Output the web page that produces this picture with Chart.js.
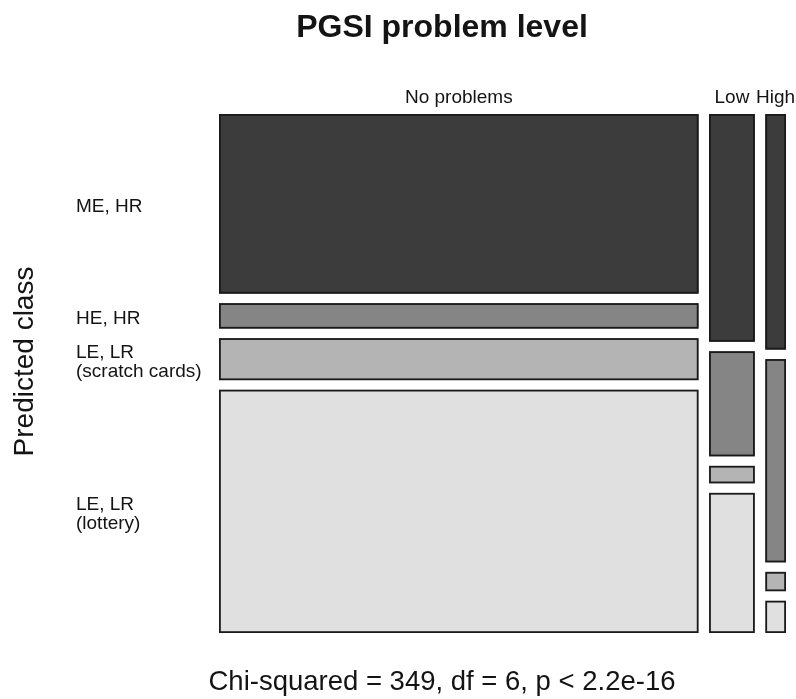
<!DOCTYPE html>
<html>
<head>
<meta charset="utf-8">
<script src="https://cdn.jsdelivr.net/npm/chart.js@4.4.1/dist/chart.umd.min.js"></script>
<style>
  html, body { margin: 0; padding: 0; background: #fff; }
  #wrap { width: 796px; height: 699px; position: relative; }
</style>
</head>
<body>
<div id="wrap"><canvas id="grafica"></canvas></div>
<script>
// =======================================================
// DATOS
// =======================================================
const pgsiLevels = ["No problems", "Low", "High"];
const classLabels = [["ME, HR"], ["HE, HR"], ["LE, LR", "(scratch cards)"], ["LE, LR", "(lottery)"]];
const noProblemsCounts = [1290, 183, 302, 1747];
const lowCounts = [156, 72, 12, 96];
const highCounts = [73, 63, 6, 10];

const chartTitle = "PGSI problem level";
const yTitle = "Predicted class";
const bottomText = "Chi-squared = 349, df = 6, p < 2.2e-16";

// estilos
const classColors = ["#3c3c3c", "#858585", "#b4b4b4", "#e0e0e0"];
const FONT = "'Liberation Sans', Arial, sans-serif";
const GAP_X = 0.0185;  // separación entre columnas (unidades de escala)
const GAP_Y = 0.0183;  // separación entre filas

const columns = [noProblemsCounts, lowCounts, highCounts];

// =======================================================
// CONSTRUIR RECTÁNGULOS DEL MOSAICO (unidades 0..1)
// =======================================================
function construirMosaico() {
    const colTotals = columns.map(c => c.reduce((a, b) => a + b, 0));
    const total = colTotals.reduce((a, b) => a + b, 0);
    const anchoUtil = 1 - GAP_X * (columns.length - 1);
    const rects = [];
    let x = 0;
    columns.forEach((col, j) => {
        const w = anchoUtil * colTotals[j] / total;
        const altoUtil = 1 - GAP_Y * (col.length - 1);
        let y = 0;
        col.forEach((n, i) => {
            const h = altoUtil * n / colTotals[j];
            rects.push({ col: j, row: i, x0: x, x1: x + w, y0: y, y1: y + h });
            y += h + GAP_Y;
        });
        x += w + GAP_X;
    });
    return rects;
}

const mosaico = construirMosaico();

// =======================================================
// PLUGIN QUE DIBUJA EL MOSAICO Y LOS TEXTOS
// =======================================================
const mosaicPlugin = {
    id: "mosaic",
    afterDatasetsDraw(chart) {
        const { ctx, scales, chartArea } = chart;
        const sx = scales.x, sy = scales.y;
        ctx.save();

        // rectángulos
        mosaico.forEach(r => {
            const left = sx.getPixelForValue(r.x0);
            const right = sx.getPixelForValue(r.x1);
            const top = sy.getPixelForValue(r.y0);
            const bottom = sy.getPixelForValue(r.y1);
            ctx.fillStyle = classColors[r.row];
            ctx.fillRect(left, top, right - left, bottom - top);
            ctx.lineWidth = 1.8;
            ctx.strokeStyle = "#1a1a1a";
            ctx.strokeRect(left + 0.9, top + 0.9, right - left - 1.8, bottom - top - 1.8);
        });

        ctx.fillStyle = "#141414";
        ctx.textBaseline = "alphabetic";

        // etiquetas de columnas
        ctx.font = "19px " + FONT;
        ctx.textAlign = "center";
        pgsiLevels.forEach((lab, j) => {
            const r = mosaico.find(m => m.col === j && m.row === 0);
            const cx = (sx.getPixelForValue(r.x0) + sx.getPixelForValue(r.x1)) / 2;
            ctx.fillText(lab, cx, chartArea.top - 11);
        });

        // etiquetas de filas (centradas en la primera columna)
        ctx.textAlign = "left";
        classLabels.forEach((lines, i) => {
            const r = mosaico.find(m => m.col === 0 && m.row === i);
            const cy = (sy.getPixelForValue(r.y0) + sy.getPixelForValue(r.y1)) / 2;
            const lh = 19;
            const start = cy - (lines.length - 1) * lh / 2 + 8;
            lines.forEach((t, k) => ctx.fillText(t, 76, start + k * lh));
        });

        // título
        ctx.textAlign = "center";
        ctx.font = "bold 32px " + FONT;
        ctx.fillText(chartTitle, 442, 37);

        // texto inferior
        ctx.font = "27.5px " + FONT;
        ctx.fillText(bottomText, 442, 690);

        // título eje Y
        ctx.save();
        ctx.translate(33, (chartArea.top + chartArea.bottom) / 2 - 12);
        ctx.rotate(-Math.PI / 2);
        ctx.font = "28px " + FONT;
        ctx.fillText(yTitle, 0, 0);
        ctx.restore();

        ctx.restore();
    }
};

// =======================================================
// GRÁFICA
// =======================================================
const ctx = document.getElementById("grafica").getContext("2d");
new Chart(ctx, {
    type: "scatter",
    data: { datasets: [] },
    options: {
        responsive: true,
        maintainAspectRatio: false,
        animation: false,
        layout: { padding: { left: 219, top: 114, right: 10, bottom: 66 } },
        plugins: {
            legend: { display: false },
            tooltip: { enabled: false }
        },
        scales: {
            x: { type: "linear", min: 0, max: 1, display: false },
            y: { type: "linear", min: 0, max: 1, reverse: true, display: false }
        }
    },
    plugins: [mosaicPlugin]
});
</script>
</body>
</html>
